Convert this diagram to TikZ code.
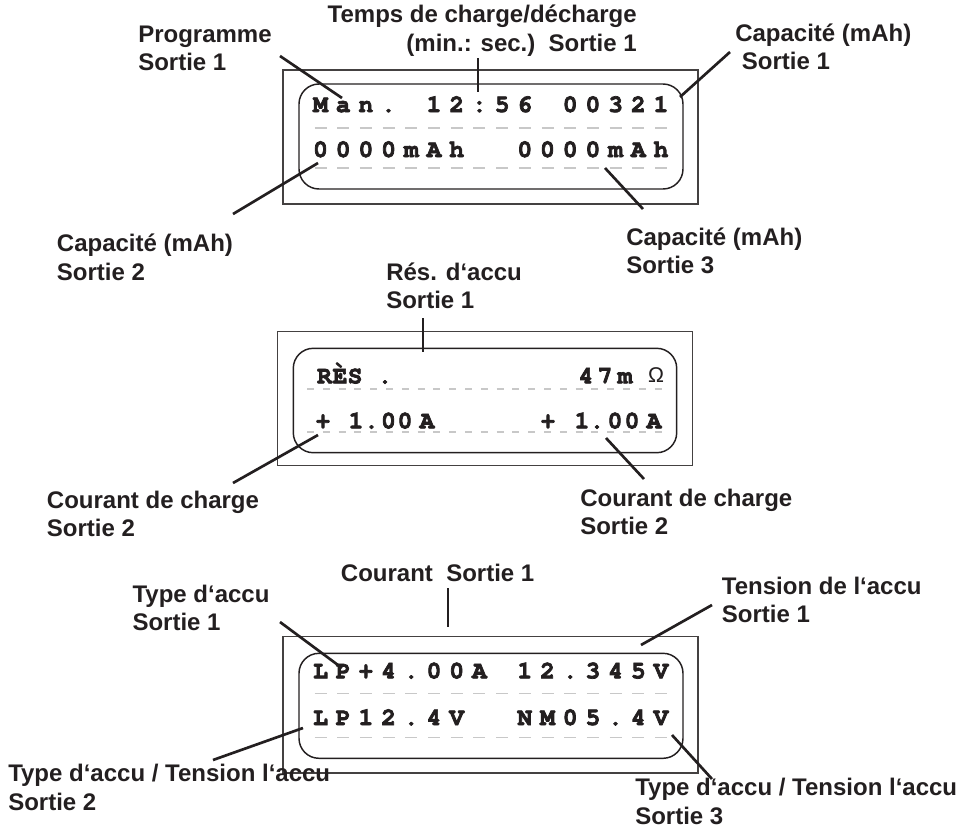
\documentclass[tikz,border=0pt]{standalone}
\usepackage{fontspec}
\setmainfont{Liberation Sans}
\usetikzlibrary{positioning}
\definecolor{ink}{HTML}{231F20}
\definecolor{cellgray}{HTML}{C8C8C8}
\newcommand{\lcdfont}{\fontencoding{T1}\fontfamily{pcr}\fontseries{b}\selectfont}
\newcommand{\heavy}[1]{\special{pdf:literal direct 2 Tr 0.55 w}#1\special{pdf:literal direct 0 Tr}}

\begin{document}
\begin{tikzpicture}[
  x=0.75pt, y=-0.75pt,
  every node/.style={text=ink},
  lbl/.style={font=\fontsize{18}{21.3}\selectfont\bfseries,align=left,anchor=base west,inner sep=0pt},
  lcd/.style={font=\fontsize{18.5}{18}\lcdfont,anchor=base,inner sep=0pt},
  lead/.style={ink,line width=2pt},
  frame/.style={draw=ink!85,line width=0.9pt},
  screen/.style={draw=ink,line width=1.1pt,rounded corners=15pt},
  cell/.style={cellgray,line width=1pt}
]
\useasboundingbox (0,0) rectangle (964,829);

% écran 1
\draw[frame] (283,70) rectangle (698,204);
\draw[screen] (299,84) rectangle (683,189);
\foreach \i in {0,...,15} {
  \draw[cell] (314.5+22.7*\i,128) -- ++(12,0);
  \draw[cell] (314.5+22.7*\i,168) -- ++(12,0);
}
\foreach \ch [count=\i from 0] in {M,a,n,{.},{},1,2,{:},5,6,{},0,0,3,2,1}
  \node[lcd] (ea-\i) at (320.5+22.7*\i,112) {\heavy{\ch}};
\foreach \ch [count=\i from 0] in {0,0,0,0,m,A,h,{},{},0,0,0,0,m,A,h}
  \node[lcd] (eb-\i) at (320.5+22.7*\i,157) {\heavy{\ch}};

% libellés (base = dernière ligne)
\node[lbl] (prog) at (138,70.5) {Programme\\Sortie 1};
\node[lbl,align=right,anchor=base east] (temps) at (637,51.2)
  {Temps de charge/décharge\\(min.: sec.)\ \ Sortie 1};
\node[lbl] (capa) at (735,69.5) {Capacité (mAh)\\\hspace*{5pt}Sortie 1};
\node[lbl] (capb) at (56.7,280) {Capacité (mAh)\\Sortie 2};
\node[lbl] (capc) at (626,273.4) {Capacité (mAh)\\Sortie 3};

\coordinate (prog-a) at (280,56);   \coordinate (prog-b) at (342,98);
\coordinate (temps-a) at (478,58);  \coordinate (temps-b) at (478,92);
\coordinate (capa-a) at (730,52);   \coordinate (capa-b) at (680,97);
\coordinate (capb-a) at (233,214);  \coordinate (capb-b) at (318,163);
\coordinate (capc-a) at (643,209);  \coordinate (capc-b) at (605,168);
\draw[lead] (prog-a) -- (prog-b);
\draw[lead] (temps-a) -- (temps-b);
\draw[lead] (capa-a) -- (capa-b);
\draw[lead] (capb-a) -- (capb-b);
\draw[lead] (capc-a) -- (capc-b);

% écran 2
\draw[frame] (277.7,331.7) rectangle (692.3,465.7);
\draw[screen] (293.3,348.3) rectangle (676.7,452.7);
\foreach \i in {0,...,22} {
  \draw[cell] (307+15.8*\i,389) -- ++(7,0);
  \draw[cell] (307+15.8*\i,432) -- ++(7,0);
}
\foreach \x/\ch in {324.5/R,340/\`E,355/S,385/{.},586/4,605/7,625/m}
  \node[lcd] (ec-\x) at (\x,383.3) {\heavy{\ch}};
\node[lcd,font=\fontsize{16}{16}\selectfont] (ohm) at (656,382) {Ω};
\foreach \x/\ch in {323/+,356/1,371.5/{.},388.5/0,405/0,427/A,
                    548/+,582/1,597/{.},615/0,632/0,654/A}
  \node[lcd] (ed-\x) at (\x,428.3) {\heavy{\ch}};

\node[lbl] (res) at (386,308.4) {Rés. d‘accu\\Sortie 1};
\node[lbl] (curl) at (46.7,536.4) {Courant de charge\\Sortie 2};
\node[lbl] (curr) at (580,534.4) {Courant de charge\\Sortie 2};

\coordinate (res-a) at (423,318);   \coordinate (res-b) at (423,352);
\coordinate (curl-a) at (233,483);  \coordinate (curl-b) at (318,435);
\coordinate (curr-a) at (644,479);  \coordinate (curr-b) at (606,438);
\draw[lead] (res-a) -- (res-b);
\draw[lead] (curl-a) -- (curl-b);
\draw[lead] (curr-a) -- (curr-b);

% écran 3
\draw[frame] (283,636.7) rectangle (698,773);
\draw[screen] (299,653.3) rectangle (683,758.3);
\foreach \i in {0,...,15} {
  \draw[cell] (314.5+22.7*\i,693.3) -- ++(12,0);
  \draw[cell] (314.5+22.7*\i,737.7) -- ++(12,0);
}
\foreach \ch [count=\i from 0] in {L,P,+,4,{.},0,0,A,{},1,2,{.},3,4,5,V}
  \node[lcd] (ee-\i) at (320.5+22.7*\i,678.3) {\heavy{\ch}};
\foreach \ch [count=\i from 0] in {L,P,1,2,{.},4,V,{},{},N,M,0,5,{.},4,V}
  \node[lcd] (ef-\i) at (320.5+22.7*\i,725) {\heavy{\ch}};

\node[lbl] (cour) at (340.7,581.7) {Courant\ \ Sortie 1};
\node[lbl] (type) at (132.3,630.5) {Type d‘accu\\Sortie 1};
\node[lbl] (tens) at (721.7,622.5) {Tension de l‘accu\\Sortie 1};
\node[lbl] (typel) at (8,810) {Type d‘accu / Tension l‘accu\\Sortie 2};
\node[lbl] (typer) at (635,824) {Type d‘accu / Tension l‘accu\\Sortie 3};

\coordinate (cour-a) at (448,588);  \coordinate (cour-b) at (448,627);
\coordinate (type-a) at (280,622);  \coordinate (type-b) at (342,668);
\coordinate (tens-a) at (712,605);  \coordinate (tens-b) at (641,645);
\coordinate (typel-a) at (213,760); \coordinate (typel-b) at (303,728);
\coordinate (typer-a) at (712,779); \coordinate (typer-b) at (672,735);
\draw[lead] (cour-a) -- (cour-b);
\draw[lead] (type-a) -- (type-b);
\draw[lead] (tens-a) -- (tens-b);
\draw[lead] (typel-a) -- (typel-b);
\draw[lead] (typer-a) -- (typer-b);
\end{tikzpicture}
\end{document}
